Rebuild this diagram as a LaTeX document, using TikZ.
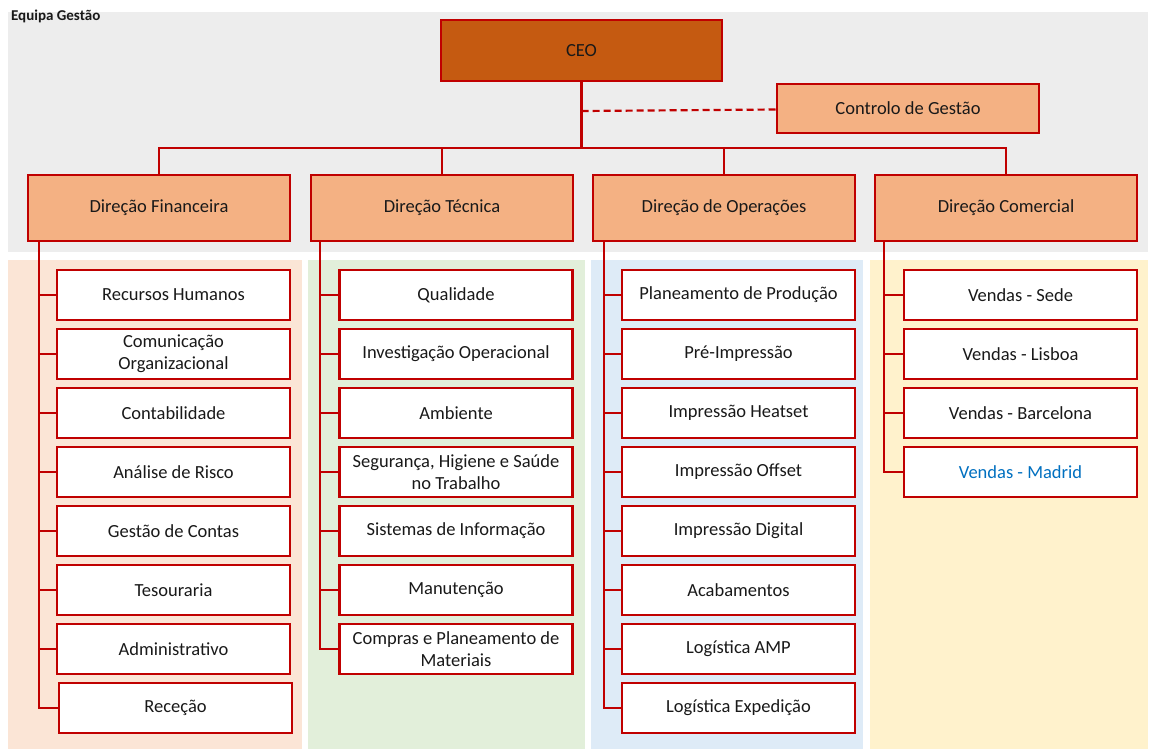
\documentclass[tikz,border=0pt]{standalone}
\usepackage{fontspec}
\setmainfont{Carlito}
\usetikzlibrary{positioning}

\definecolor{linered}{RGB}{192,0,0}
\definecolor{ceofill}{RGB}{197,90,17}
\definecolor{headfill}{RGB}{244,177,131}
\definecolor{bggray}{RGB}{237,237,237}
\definecolor{bgpink}{RGB}{251,229,214}
\definecolor{bggreen}{RGB}{226,239,218}
\definecolor{bgblue}{RGB}{222,235,247}
\definecolor{bgyellow}{RGB}{255,242,204}
\definecolor{txtblue}{RGB}{0,112,192}

\begin{document}
\begin{tikzpicture}[x=1pt, y=-1pt, node distance={59pt}, line width=2.2pt,
    main/.style = {draw=linered, fill=white, minimum width=233pt, minimum height=50pt, align=center,
      text=black!90, inner sep=2pt, font=\fontsize{18.5}{22}\selectfont},
    head/.style = {main, fill=headfill, minimum width=262pt, minimum height=66pt},
    link/.style = {draw=linered, line width=2.2pt}]
    \useasboundingbox (0,0) rectangle (1150,749);
    % fundos
    \fill[bggray] (8,12) rectangle (1148,252);
    \fill[bgpink] (8,260) rectangle (302,749);
    \fill[bggreen] (308,260) rectangle (585,749);
    \fill[bgblue] (591,260) rectangle (863,749);
    \fill[bgyellow] (870,260) rectangle (1148,749);
    \node[anchor=north west, inner sep=0pt, font=\fontsize{15}{17}\selectfont\bfseries, text=black!90] (equipa) at (10,9) {Equipa Gestão};

    % topo
    \node[head, fill=ceofill, minimum width=281pt, minimum height=61pt] (ceo) at (581.5,50.5) {CEO};
    \node[head, minimum height=49pt] (ctrl) at (908,108.5) {Controlo de Gestão};
    \node[head] (fin) at (159,208) {Direção Financeira};
    \node[head] (tec) at (442,208) {Direção Técnica};
    \node[head] (ops) at (724,208) {Direção de Operações};
    \node[head] (com) at (1006,208) {Direção Comercial};
    \coordinate (hub) at (581.5,148);
    \coordinate (dash) at (581.5,111);

    % financeira
    \node[main] (f1) at (173.5,295) {Recursos Humanos};
    \node[main] (f2) [below of=f1] {Comunicação\\Organizacional};
    \node[main] (f3) [below of=f2] {Contabilidade};
    \node[main] (f4) [below of=f3] {Análise de Risco};
    \node[main] (f5) [below of=f4] {Gestão de Contas};
    \node[main] (f6) [below of=f5] {Tesouraria};
    \node[main] (f7) [below of=f6] {Administrativo};
    \node[main] (f8) [below of=f7, xshift=2pt] {Receção};

    % tecnica
    \node[main] (t1) at (456,295) {Qualidade};
    \node[main] (t2) [below of=t1] {Investigação Operacional};
    \node[main] (t3) [below of=t2] {Ambiente};
    \node[main] (t4) [below of=t3] {Segurança, Higiene e Saúde\\no Trabalho};
    \node[main] (t5) [below of=t4] {Sistemas de Informação};
    \node[main] (t6) [below of=t5] {Manutenção};
    \node[main] (t7) [below of=t6] {Compras e Planeamento de\\Materiais};

    % operacoes
    \node[main] (o1) at (738.5,295) {Planeamento de Produção};
    \node[main] (o2) [below of=o1] {Pré-Impressão};
    \node[main] (o3) [below of=o2] {Impressão Heatset};
    \node[main] (o4) [below of=o3] {Impressão Offset};
    \node[main] (o5) [below of=o4] {Impressão Digital};
    \node[main] (o6) [below of=o5] {Acabamentos};
    \node[main] (o7) [below of=o6] {Logística AMP};
    \node[main] (o8) [below of=o7] {Logística Expedição};

    % comercial
    \node[main] (c1) at (1020.5,295) {Vendas - Sede};
    \node[main] (c2) [below of=c1] {Vendas - Lisboa};
    \node[main] (c3) [below of=c2] {Vendas - Barcelona};
    \node[main, text=txtblue] (c4) [below of=c3] {Vendas - Madrid};

    % ligacoes
    \draw[link] (ceo.south) -- (hub);
    \draw[link, dash pattern=on 7pt off 4pt] (dash) -- (ctrl);
    \draw[link] (hub) -| (fin);
    \draw[link] (hub) -| (tec);
    \draw[link] (hub) -| (ops);
    \draw[link] (hub) -| (com);

    \draw[link] ([xshift=12pt]fin.south west) |- (f1.west);
    \draw[link] ([xshift=12pt]fin.south west) |- (f2.west);
    \draw[link] ([xshift=12pt]fin.south west) |- (f3.west);
    \draw[link] ([xshift=12pt]fin.south west) |- (f4.west);
    \draw[link] ([xshift=12pt]fin.south west) |- (f5.west);
    \draw[link] ([xshift=12pt]fin.south west) |- (f6.west);
    \draw[link] ([xshift=12pt]fin.south west) |- (f7.west);
    \draw[link] ([xshift=12pt]fin.south west) |- (f8.west);

    \draw[link] ([xshift=10pt]tec.south west) |- (t1.west);
    \draw[link] ([xshift=10pt]tec.south west) |- (t2.west);
    \draw[link] ([xshift=10pt]tec.south west) |- (t3.west);
    \draw[link] ([xshift=10pt]tec.south west) |- (t4.west);
    \draw[link] ([xshift=10pt]tec.south west) |- (t5.west);
    \draw[link] ([xshift=10pt]tec.south west) |- (t6.west);
    \draw[link] ([xshift=10pt]tec.south west) |- (t7.west);

    \draw[link] ([xshift=12pt]ops.south west) |- (o1.west);
    \draw[link] ([xshift=12pt]ops.south west) |- (o2.west);
    \draw[link] ([xshift=12pt]ops.south west) |- (o3.west);
    \draw[link] ([xshift=12pt]ops.south west) |- (o4.west);
    \draw[link] ([xshift=12pt]ops.south west) |- (o5.west);
    \draw[link] ([xshift=12pt]ops.south west) |- (o6.west);
    \draw[link] ([xshift=12pt]ops.south west) |- (o7.west);
    \draw[link] ([xshift=12pt]ops.south west) |- (o8.west);

    \draw[link] ([xshift=10pt]com.south west) |- (c1.west);
    \draw[link] ([xshift=10pt]com.south west) |- (c2.west);
    \draw[link] ([xshift=10pt]com.south west) |- (c3.west);
    \draw[link] ([xshift=10pt]com.south west) |- (c4.west);
\end{tikzpicture}
\end{document}
